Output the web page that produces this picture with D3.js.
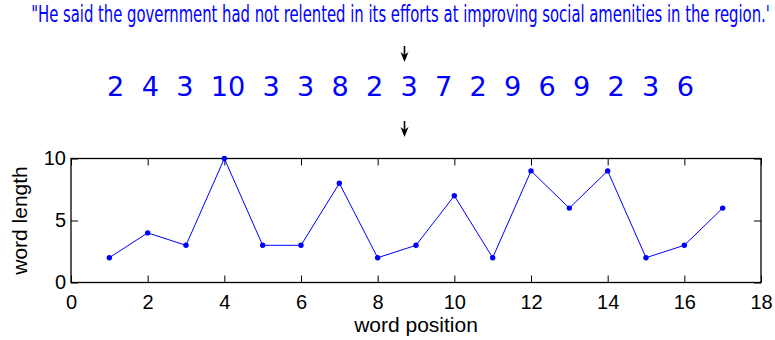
<!DOCTYPE html>
<html>
<head>
<meta charset="utf-8">
<script src="https://cdn.jsdelivr.net/npm/d3@7"></script>
<style>
  body { margin: 0; background: #fff; }
  svg { display: block; }
</style>
</head>
<body>
<svg id="chart"></svg>
<script>
let width = 775, height = 340;

// data
var sentence = "\"He said the government had not relented in its efforts at improving social amenities in the region.'";
var wordLengths = [2, 4, 3, 10, 3, 3, 8, 2, 3, 7, 2, 9, 6, 9, 2, 3, 6];
var xTicks = [0, 2, 4, 6, 8, 10, 12, 14, 16, 18];
var yTicks = [0, 5, 10];
var xLabel = "word position";
var yLabel = "word length";

var margin = { top: 158.5, right: 14, bottom: 57.5, left: 71 };
var tickLen = 7;
var blue = "#0000ff";

let svg = d3.select("#chart")
  .attr("width", width)
  .attr("height", height);

// squeeze a text horizontally so it spans the wanted width
function fitText(sel, cx, cy, w) {
  var natural = sel.node().getComputedTextLength();
  sel.attr("transform", `translate(${cx},${cy}) scale(${w / natural},1)`);
}

// sentence on top
var sentenceText = svg.append("text")
  .attr("text-anchor", "middle")
  .attr("fill", blue)
  .attr("font-family", "'DejaVu Sans Condensed', 'DejaVu Sans', sans-serif")
  .attr("font-stretch", "condensed")
  .attr("font-size", 23)
  .text(sentence);
fitText(sentenceText, 400.5, 21.5, 739);

// row of word lengths
var rowText = svg.append("text")
  .attr("text-anchor", "middle")
  .attr("fill", blue)
  .attr("font-family", "'DejaVu Sans', sans-serif")
  .attr("font-size", 27)
  .style("white-space", "pre")
  .text(wordLengths.join("  "));
fitText(rowText, 400.5, 95.5, 587);

// down arrows
function arrow(x, y0, y1) {
  svg.append("line")
    .attr("x1", x).attr("x2", x)
    .attr("y1", y0).attr("y2", y1 - 4)
    .attr("stroke", "#000")
    .attr("stroke-width", 1.6);
  svg.append("path")
    .attr("d", `M${x - 4},${y1 - 10} L${x},${y1} L${x + 4},${y1 - 10} L${x},${y1 - 7} Z`)
    .attr("fill", "#000");
}
arrow(404.5, 46, 62);
arrow(404.5, 121, 137);

// plot area
var x = d3.scaleLinear()
  .domain([0, 18])
  .range([margin.left, width - margin.right]);
var y = d3.scaleLinear()
  .domain([0, 10])
  .range([height - margin.bottom, margin.top]);

var axisFont = "'Liberation Sans', Arial, sans-serif";

// bottom axis with labels
svg.append("g")
  .attr("transform", `translate(0,${y(0)})`)
  .call(d3.axisBottom(x).tickValues(xTicks).tickSize(-tickLen).tickPadding(12))
  .call(g => g.select(".domain").remove())
  .call(g => g.selectAll("line").attr("stroke", "#000"))
  .call(g => g.selectAll("text").attr("font-size", 20).attr("font-family", axisFont).attr("fill", "#000"));

// top ticks
svg.append("g")
  .attr("transform", `translate(0,${y(10)})`)
  .call(d3.axisTop(x).tickValues(xTicks).tickSize(-tickLen).tickFormat(""))
  .call(g => g.select(".domain").remove())
  .call(g => g.selectAll("line").attr("stroke", "#000"));

// left axis with labels
svg.append("g")
  .attr("transform", `translate(${x(0)},0)`)
  .call(d3.axisLeft(y).tickValues(yTicks).tickSize(-tickLen).tickPadding(5))
  .call(g => g.select(".domain").remove())
  .call(g => g.selectAll("line").attr("stroke", "#000"))
  .call(g => g.selectAll("text").attr("font-size", 20).attr("font-family", axisFont).attr("fill", "#000"));

// right ticks
svg.append("g")
  .attr("transform", `translate(${x(18)},0)`)
  .call(d3.axisRight(y).tickValues(yTicks).tickSize(-tickLen).tickFormat(""))
  .call(g => g.select(".domain").remove())
  .call(g => g.selectAll("line").attr("stroke", "#000"));

// box
svg.append("rect")
  .attr("x", x(0))
  .attr("y", y(10))
  .attr("width", x(18) - x(0))
  .attr("height", y(0) - y(10))
  .attr("fill", "none")
  .attr("stroke", "#000")
  .attr("stroke-width", 1.3);

// data line
var points = wordLengths.map((d, i) => [i + 1, d]);
svg.append("path")
  .datum(points)
  .attr("fill", "none")
  .attr("stroke", blue)
  .attr("stroke-width", 1)
  .attr("d", d3.line().x(d => x(d[0])).y(d => y(d[1])));

svg.append("g")
  .selectAll("circle")
  .data(points)
  .join("circle")
  .attr("cx", d => x(d[0]))
  .attr("cy", d => y(d[1]))
  .attr("r", 2.7)
  .attr("fill", blue);

// axis labels
svg.append("text")
  .attr("x", (x(0) + x(18)) / 2)
  .attr("y", 331.5)
  .attr("text-anchor", "middle")
  .attr("font-family", axisFont)
  .attr("font-size", 21)
  .text(xLabel);

svg.append("text")
  .attr("transform", `translate(27,${(y(0) + y(10)) / 2}) rotate(-90)`)
  .attr("text-anchor", "middle")
  .attr("font-family", axisFont)
  .attr("font-size", 21)
  .text(yLabel);
</script>
</body>
</html>
